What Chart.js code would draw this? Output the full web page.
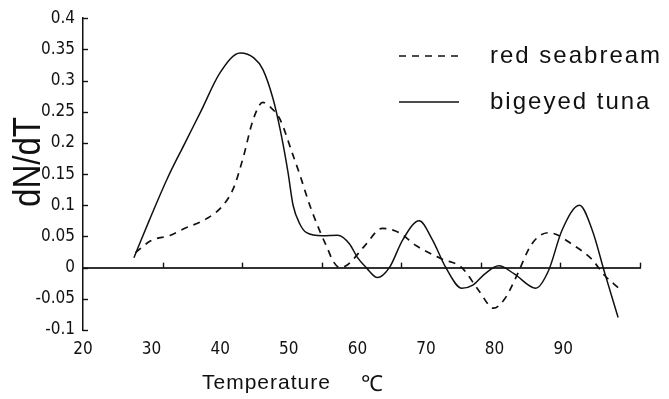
<!DOCTYPE html>
<html><head><meta charset="utf-8">
<script src="https://cdn.jsdelivr.net/npm/chart.js@4/dist/chart.umd.min.js"></script>
<style>html,body{margin:0;padding:0;background:#fff}#wrap{width:669px;height:399px}</style>
</head><body><div id="wrap"><canvas id="c" width="669" height="399"></canvas></div>
<script>
// ---- data ----
const seriesNames = ['red seabream', 'bigeyed tuna'];
const breamTemp  = [26.6, 28.5, 31.0, 32.6, 35.6, 37.6, 38.9, 40.1, 41.4, 42.6, 43.5, 44.75, 46.4, 47.25, 48.5, 49.75, 50.75, 51.4, 52.3, 53.3, 55.4, 57.6, 59.75, 61.9, 65.1, 67.6, 69.75, 71.6, 73.0, 74.4, 76.4, 78.5, 79.5, 81.4, 83.9, 85.6, 87.25];
const breamValue = [0.024, 0.043, 0.052, 0.062, 0.079, 0.100, 0.127, 0.175, 0.238, 0.265, 0.258, 0.238, 0.180, 0.149, 0.100, 0.059, 0.030, 0.011, 0.000, 0.005, 0.035, 0.063, 0.056, 0.035, 0.014, 0.000, -0.037, -0.065, -0.050, -0.016, 0.038, 0.056, 0.053, 0.038, 0.014, -0.013, -0.032];
const tunaTemp  = [26.4, 28.3, 30.6, 32.7, 34.75, 37.25, 39.75, 41.5, 42.6, 43.9, 44.8, 45.75, 46.4, 47.25, 48.1, 50.1, 52.0, 53.5, 54.5, 55.6, 57.0, 58.5, 60.2, 62.25, 63.9, 65.6, 67.6, 69.0, 70.5, 72.25, 74.2, 76.9, 78.5, 80.2, 82.4, 84.0, 85.6, 87.25];
const tunaValue = [0.016, 0.075, 0.143, 0.197, 0.249, 0.313, 0.344, 0.336, 0.318, 0.270, 0.220, 0.154, 0.100, 0.070, 0.056, 0.051, 0.052, 0.038, 0.016, 0.000, -0.016, 0.000, 0.045, 0.075, 0.045, 0.000, -0.033, -0.028, -0.010, 0.003, -0.010, -0.033, -0.005, 0.060, 0.100, 0.060, -0.010, -0.080];
const xTickValues = [20, 30, 40, 50, 60, 70, 80, 90];
const yTickValues = [-0.1, -0.05, 0, 0.05, 0.1, 0.15, 0.2, 0.25, 0.3, 0.35, 0.4];
const yTickLabels = ['-0.1', '-0.05', '0', '0.05', '0.1', '0.15', '0.2', '0.25', '0.3', '0.35', '0.4'];
const xTitle = 'Temperature';
const xUnit = '℃';
const yTitle = 'dN/dT';

const INK = '#111';
const NARROW = "'Liberation Sans Narrow', 'DejaVu Sans Condensed', 'Liberation Sans', sans-serif";
const SANS = "'Liberation Sans', Arial, sans-serif";

const toPts = (xs, ys) => xs.map((x, i) => ({x: x, y: ys[i]}));

const decor = {
  id: 'decor',
  afterDraw(chart) {
    const ctx = chart.ctx, xs = chart.scales.x, ys = chart.scales.y, ca = chart.chartArea;
    ctx.save();
    ctx.strokeStyle = INK;
    ctx.lineWidth = 1.4;
    // inward ticks on y axis
    yTickValues.forEach(v => {
      const y = Math.round(ys.getPixelForValue(v)) + 0.5;
      ctx.beginPath(); ctx.moveTo(ca.left, y); ctx.lineTo(ca.left + 5, y); ctx.stroke();
    });
    // upward ticks on the zero line
    const y0 = ys.getPixelForValue(0);
    xTickValues.slice(1).forEach(v => {
      const x = Math.round(xs.getPixelForValue(v)) + 0.5;
      ctx.beginPath(); ctx.moveTo(x, y0); ctx.lineTo(x, y0 - 5); ctx.stroke();
    });
    // titles
    ctx.fillStyle = INK;
    ctx.textBaseline = 'middle';
    ctx.textAlign = 'left';
    ctx.font = '21px ' + SANS;
    ctx.letterSpacing = '1px';
    ctx.fillText(xTitle, 202, 383, 130);
    ctx.letterSpacing = '0px';
    ctx.font = '22px ' + SANS;
    ctx.fillText(xUnit, 361, 385);
    ctx.save();
    ctx.translate(30, 162);
    ctx.rotate(-Math.PI / 2);
    ctx.textAlign = 'center';
    ctx.font = '38px ' + SANS;
    ctx.fillText(yTitle, 0, 0, 90);
    ctx.restore();
    // legend
    const rows = [56, 102];
    chart.data.datasets.forEach((ds, i) => {
      const y = rows[i];
      ctx.save();
      ctx.lineWidth = ds.borderWidth;
      ctx.strokeStyle = ds.borderColor;
      ctx.setLineDash(ds.borderDash || []);
      ctx.beginPath(); ctx.moveTo(399, y); ctx.lineTo(459, y); ctx.stroke();
      ctx.restore();
      ctx.font = '24px ' + SANS;
      ctx.letterSpacing = '2px';
      ctx.textAlign = 'left';
      ctx.fillText(ds.label, 490, y);
      ctx.letterSpacing = '0px';
    });
    ctx.restore();
  }
};

new Chart(document.getElementById('c'), {
  type: 'line',
  data: {
    datasets: [
      {label: seriesNames[0], data: toPts(breamTemp, breamValue), borderColor: INK, borderWidth: 1.7, borderDash: [7, 6], pointRadius: 0, fill: false, cubicInterpolationMode: 'monotone', xAxisID: 'x', yAxisID: 'y'},
      {label: seriesNames[1], data: toPts(tunaTemp, tunaValue), borderColor: INK, borderWidth: 1.5, pointRadius: 0, fill: false, cubicInterpolationMode: 'monotone', xAxisID: 'x', yAxisID: 'y'}
    ]
  },
  options: {
    responsive: false,
    animation: false,
    devicePixelRatio: 1,
    layout: {padding: {top: 15, right: 29, bottom: 0, left: 0}},
    plugins: {legend: {display: false}, tooltip: {enabled: false}},
    scales: {
      x: {
        type: 'linear', position: {y: 0}, min: 20, max: 90,
        ticks: {display: false},
        grid: {display: true, drawOnChartArea: false, drawTicks: false},
        border: {display: true, color: '#333', width: 2}
      },
      xl: {
        type: 'linear', axis: 'x', position: 'bottom', min: 20, max: 101.2,
        afterBuildTicks: s => { s.ticks = xTickValues.map(v => ({value: v})); },
        afterFit: s => { s.height = 69; },
        ticks: {autoSkip: false, maxRotation: 0, padding: 9, color: INK, font: {family: NARROW, size: 17}, callback: v => String(v)},
        grid: {display: false, drawTicks: false},
        border: {display: false}
      },
      y: {
        type: 'linear', position: 'left', min: -0.1, max: 0.4,
        afterBuildTicks: s => { s.ticks = yTickValues.map(v => ({value: v})); },
        afterFit: s => { s.width = 83; },
        ticks: {autoSkip: false, padding: 8, color: INK, font: {family: NARROW, size: 17},
                callback: (v, i) => yTickLabels[i]},
        grid: {display: true, drawOnChartArea: false, drawTicks: false},
        border: {display: true, color: INK, width: 1.5}
      }
    }
  },
  plugins: [decor]
});
</script></body></html>
